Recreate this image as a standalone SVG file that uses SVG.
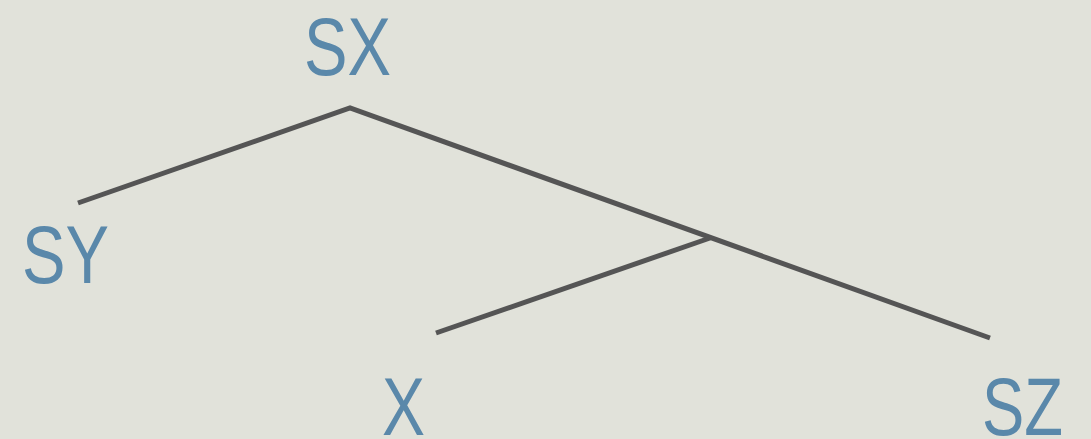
<svg xmlns="http://www.w3.org/2000/svg" width="1091" height="439" viewBox="0 0 1091 439">
<style>
.lbl{font-family:"Liberation Sans","DejaVu Sans",sans-serif;font-size:81px;fill:#5a88aa}
.edge{stroke:#555555;stroke-width:5;fill:none;stroke-linecap:butt;stroke-linejoin:miter}
</style>
<rect width="1091" height="439" fill="#e1e2da"/>
<g id="connectors">
<polyline class="edge" points="78,203 350,108 990,338"/>
<line class="edge" x1="436" y1="333" x2="710" y2="238"/>
</g>
<g id="SX"><text class="lbl" x="304" y="75" textLength="87" lengthAdjust="spacingAndGlyphs">SX</text></g>
<g id="SY"><text class="lbl" x="22" y="283" textLength="87" lengthAdjust="spacingAndGlyphs">SY</text></g>
<g id="X"><text class="lbl" x="382" y="435" textLength="43" lengthAdjust="spacingAndGlyphs">X</text></g>
<g id="SZ"><text class="lbl" x="982" y="435" textLength="81" lengthAdjust="spacingAndGlyphs">SZ</text></g>
</svg>
